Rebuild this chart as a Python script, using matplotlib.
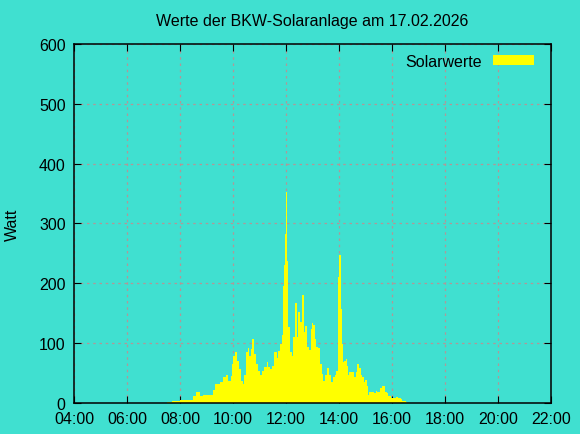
import matplotlib
matplotlib.use("Agg")
import matplotlib.pyplot as plt
from matplotlib.patches import Patch
import numpy as np

zeiten = ["07:28", "07:31", "07:42", "08:00", "08:29", "08:36", "08:45", "08:52",
          "09:08", "09:15", "09:19", "09:31", "09:37", "09:44", "09:49", "09:55",
          "09:58", "10:00", "10:04", "10:09", "10:14", "10:18", "10:23", "10:25",
          "10:29", "10:34", "10:36", "10:41", "10:43", "10:48", "10:52", "10:57",
          "11:01", "11:06", "11:10", "11:17", "11:19", "11:24", "11:28", "11:33",
          "11:40", "11:42", "11:46", "11:51", "11:53", "11:55", "11:58", "12:00",
          "12:02", "12:04", "12:09", "12:14", "12:16", "12:20", "12:25", "12:27",
          "12:32", "12:36", "12:41", "12:43", "12:48", "12:52", "12:57", "12:59",
          "13:01", "13:06", "13:08", "13:12", "13:17", "13:22", "13:24", "13:28",
          "13:33", "13:37", "13:42", "13:46", "13:51", "13:53", "13:58", "14:00",
          "14:05", "14:07", "14:09", "14:11", "14:16", "14:18", "14:20", "14:23",
          "14:34", "14:38", "14:41", "14:45", "14:50", "14:52", "14:57", "14:59",
          "15:03", "15:06", "15:08", "15:19", "15:24", "15:26", "15:33", "15:37",
          "15:44", "15:49", "15:51", "15:58", "16:09", "16:14", "16:20", "16:23",
          "16:27", "16:32", "16:34"]
watt = [0, 2, 4, 5, 12, 18, 12, 14,
        14, 22, 32, 35, 43, 46, 37, 45,
        65, 79, 85, 70, 57, 37, 32, 46,
        85, 92, 79, 90, 107, 82, 65, 54,
        46, 54, 60, 68, 60, 57, 62, 85,
        75, 87, 99, 113, 196, 230, 283, 352,
        238, 127, 85, 79, 110, 167, 110, 152,
        135, 180, 118, 128, 93, 89, 124, 134,
        130, 107, 94, 92, 65, 48, 37, 46,
        58, 46, 35, 43, 46, 54, 210, 247,
        157, 99, 68, 70, 74, 62, 46, 51,
        43, 51, 65, 58, 46, 43, 35, 39,
        29, 13, 18, 16, 20, 18, 25, 28,
        19, 16, 11, 8, 10, 9, 6, 3,
        4, 2, 0]

x_ticks = ["04:00", "06:00", "08:00", "10:00", "12:00", "14:00", "16:00",
           "18:00", "20:00", "22:00"]
y_ticks = [0, 100, 200, 300, 400, 500, 600]


def to_h(s):
    h, m = s.split(":")
    return int(h) + int(m) / 60.0


stunden = np.array([to_h(z) for z in zeiten])
tick_pos = [to_h(t) for t in x_ticks]

bg = "#40e0d0"
plt.rcParams["font.family"] = ["Liberation Sans", "DejaVu Sans"]
plt.rcParams["font.size"] = 11.5

fig = plt.figure(figsize=(5.8, 4.35), dpi=100, facecolor=bg)
ax = fig.add_axes([0.1276, 0.0713, 0.8224, 0.8253], facecolor=bg)
ax.set_axisbelow(True)

ax.fill_between(stunden, watt, step="post", color="yellow", linewidth=0,
                zorder=2)

ax.set_xlim(tick_pos[0], tick_pos[-1])
ax.set_ylim(0, 600)
ax.set_xticks(tick_pos)
ax.set_xticklabels(x_ticks)
ax.set_yticks(y_ticks)
ax.tick_params(direction="in", top=True, right=True, length=5, width=0.8,
               pad=6, colors="black")
ax.grid(True, color="#b09898", linestyle=(0, (2, 3)), linewidth=0.9, zorder=0)
for s in ax.spines.values():
    s.set_linewidth(1.1)
    s.set_zorder(3)

ax.set_ylabel("Watt", labelpad=14)
ax.set_title("Werte der BKW-Solaranlage am 17.02.2026", fontsize=11.5, pad=14)

h = Patch(facecolor="yellow", edgecolor="none")
ax.legend([h], ["Solarwerte"], loc="upper right", frameon=False,
          markerfirst=False, handlelength=2.6, handleheight=0.6,
          borderaxespad=0.2, handletextpad=0.7, bbox_to_anchor=(0.985, 1.0))

fig.savefig("out.png", dpi=100, facecolor=bg)
